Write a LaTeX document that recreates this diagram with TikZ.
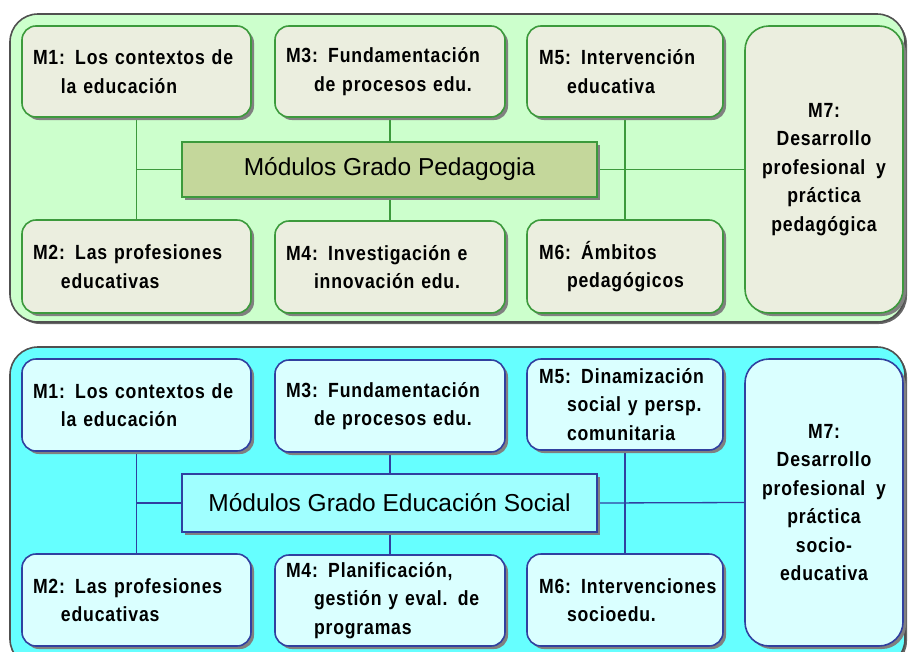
\documentclass[tikz,border=0pt]{standalone}
\usepackage{fontspec}
\usetikzlibrary{shadows}
\newfontfamily\mfont[LetterSpace=4,FakeStretch=0.86]{Liberation Sans}
\newfontfamily\tfont{Liberation Sans}
\definecolor{gpanel}{HTML}{CCFFCC}
\definecolor{gbox}{HTML}{EBEEDF}
\definecolor{gline}{HTML}{3C9A3C}
\definecolor{gtitle}{HTML}{C4D79B}
\definecolor{bpanel}{HTML}{66FFFF}
\definecolor{bbox}{HTML}{DAFFFF}
\definecolor{bline}{HTML}{3040A0}
\definecolor{btitle}{HTML}{A0FFFF}
\definecolor{pline}{HTML}{505050}
\newcommand\oneline[1]{\mbox{#1}}
\newcommand\indline[1]{\hspace*{28pt}\mbox{#1}}
\pgfdeclarelayer{bg}
\pgfdeclarelayer{conn}
\pgfsetlayers{bg,conn,main}
\tikzset{
  shad/.style={drop shadow={shadow xshift=3pt,shadow yshift=-3pt,fill=black!50,opacity=1}},
  panel/.style={draw=pline, line width=1.6pt, rounded corners=28pt, inner sep=0pt,
    drop shadow={shadow xshift=2pt,shadow yshift=-2pt,fill=black!60,opacity=1}},
  modbox/.style={shad, draw, line width=1.6pt, rounded corners=14pt, inner xsep=11pt,
    inner ysep=0pt, align=left, text=black,
    font=\mfont\bfseries\fontsize{20.5}{28.5}\selectfont},
  wide/.style={minimum width=229pt, text width=207pt},
  mid/.style={minimum width=230pt, text width=208pt},
  narrow/.style={minimum width=196pt, text width=172pt, inner xsep=12pt},
  tall/.style={minimum width=158pt, text width=150pt, inner xsep=4pt, align=center, rounded corners=24pt},
  gmod/.style={modbox, draw=gline, fill=gbox},
  bmod/.style={modbox, draw=bline, fill=bbox},
  titlebox/.style={shad, draw, line width=1.6pt, inner sep=0pt, minimum width=415pt,
    font=\tfont\fontsize{24.5}{28}\selectfont},
  gconn/.style={draw=gline, line width=1.3pt},
  bconn/.style={draw=bline, line width=1.3pt},
}
\begin{document}
\begin{tikzpicture}[x=1pt,y=-1pt]
\useasboundingbox (0,0) rectangle (908,651);
\clip (0,0) rectangle (908,651);
% panels
\begin{pgfonlayer}{bg}
\node[panel, fill=gpanel, minimum width=895pt, minimum height=308pt] (gP) at (457.5,168) {};
\node[panel, fill=bpanel, minimum width=895pt, minimum height=320pt] (bP) at (457.5,507) {};
\end{pgfonlayer}
% ---------- top panel ----------
\node[gmod, wide, minimum height=91pt] (gM1) at (136.5,71.5)
  {\oneline{M1: Los contextos de}\\\indline{la educación}};
\node[gmod, wide, minimum height=93pt] (gM2) at (136.5,266.5)
  {\oneline{M2: Las profesiones}\\\indline{educativas}};
\node[gmod, mid, minimum height=91pt] (gM3) at (390,71.5)
  {\oneline{M3: Fundamentación}\\\indline{de procesos edu.}};
\node[gmod, mid, minimum height=92pt] (gM4) at (390,267)
  {\oneline{M4: Investigación e}\\\indline{innovación edu.}};
\node[gmod, narrow, minimum height=91pt] (gM5) at (625,71.5)
  {\oneline{M5: Intervención}\\\indline{educativa}};
\node[gmod, narrow, minimum height=93pt] (gM6) at (625,266.5)
  {\oneline{M6: Ámbitos}\\\indline{pedagógicos}};
\node[gmod, tall, minimum height=287pt] (gM7) at (824,169.5)
  {M7:\\Desarrollo\\profesional\hspace{4pt} y\\práctica\\pedagógica};
\node[titlebox, draw=gline, fill=gtitle, minimum height=55pt] (gT) at (389.5,169.5)
  {Módulos Grado Pedagogia};
\begin{pgfonlayer}{conn}
\draw[gconn] (gM1.south) -- (gM2.north);
\draw[gconn] (gT.west) -- (gT.west -| gM1.south);
\draw[gconn] (gM3.south) -- (gM4.north);
\draw[gconn] (gM5.south) -- (gM6.north);
\draw[gconn] (gT.east) -- (gM7.west);
\end{pgfonlayer}
% ---------- bottom panel ----------
\node[bmod, wide, minimum height=92pt] (bM1) at (136.5,405)
  {\oneline{M1: Los contextos de}\\\indline{la educación}};
\node[bmod, wide, minimum height=92pt] (bM2) at (136.5,600)
  {\oneline{M2: Las profesiones}\\\indline{educativas}};
\node[bmod, mid, minimum height=92pt] (bM3) at (390,406)
  {\oneline{M3: Fundamentación}\\\indline{de procesos edu.}};
\node[bmod, mid, minimum height=91pt] (bM4) at (390,600.5)
  {\oneline{M4: Planificación,}\\\indline{gestión y eval. de}\\\indline{programas}};
\node[bmod, narrow, minimum height=91pt] (bM5) at (625,404.5)
  {\oneline{M5: Dinamización}\\\indline{social y persp.}\\\indline{comunitaria}};
\node[bmod, narrow, minimum height=92pt] (bM6) at (625,600)
  {\oneline{M6: Intervenciones}\\\indline{socioedu.}};
\node[bmod, tall, minimum height=287pt] (bM7) at (824,502.5)
  {M7:\\Desarrollo\\profesional\hspace{4pt} y\\práctica\\socio-\\educativa};
\node[titlebox, draw=bline, fill=btitle, minimum height=58pt] (bT) at (389.5,503)
  {Módulos Grado Educación Social};
\begin{pgfonlayer}{conn}
\draw[bconn] (bM1.south) -- (bM2.north);
\draw[bconn] (bT.west) -- (bT.west -| bM1.south);
\draw[bconn] (bM3.south) -- (bM4.north);
\draw[bconn] (bM5.south) -- (bM6.north);
\draw[bconn] (bT.east) -- (bM7.west);
\end{pgfonlayer}
\end{tikzpicture}
\end{document}
